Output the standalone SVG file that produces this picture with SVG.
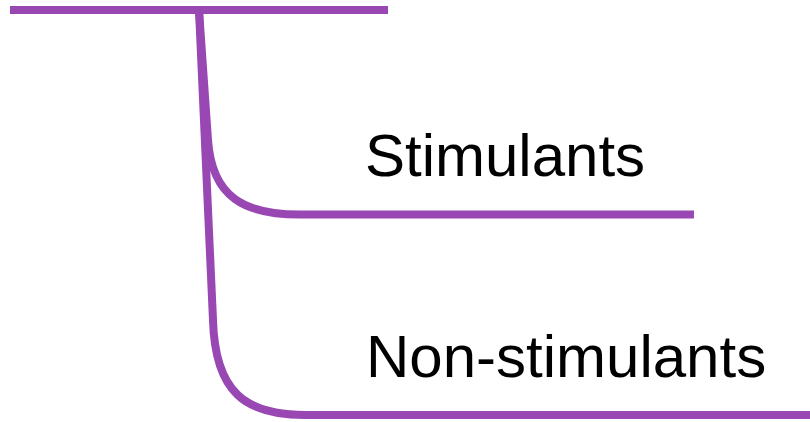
<svg xmlns="http://www.w3.org/2000/svg" width="810" height="422" viewBox="0 0 810 422">
  <style>
    .branch { fill: none; stroke: #9847b3; stroke-width: 8; stroke-linecap: butt; stroke-linejoin: round; }
    .label { font-family: "Liberation Sans", Arial, sans-serif; font-size: 60px; fill: #000; }
  </style>
  <rect width="810" height="422" fill="#fff"/>
  <g id="connectors">
    <path class="branch" d="M10,10 L388,10"/>
    <path class="branch" d="M199,10 L208,140 C212,198 245,214.5 300,214.5 L694,214.5"/>
    <path class="branch" d="M199,10 L213,320 C215,392 245,415 305,415 L810,415"/>
  </g>
  <g id="stimulants">
    <text class="label" x="365" y="176">Stimulants</text>
  </g>
  <g id="non-stimulants">
    <text class="label" x="366" y="377">Non-stimulants</text>
  </g>
</svg>
